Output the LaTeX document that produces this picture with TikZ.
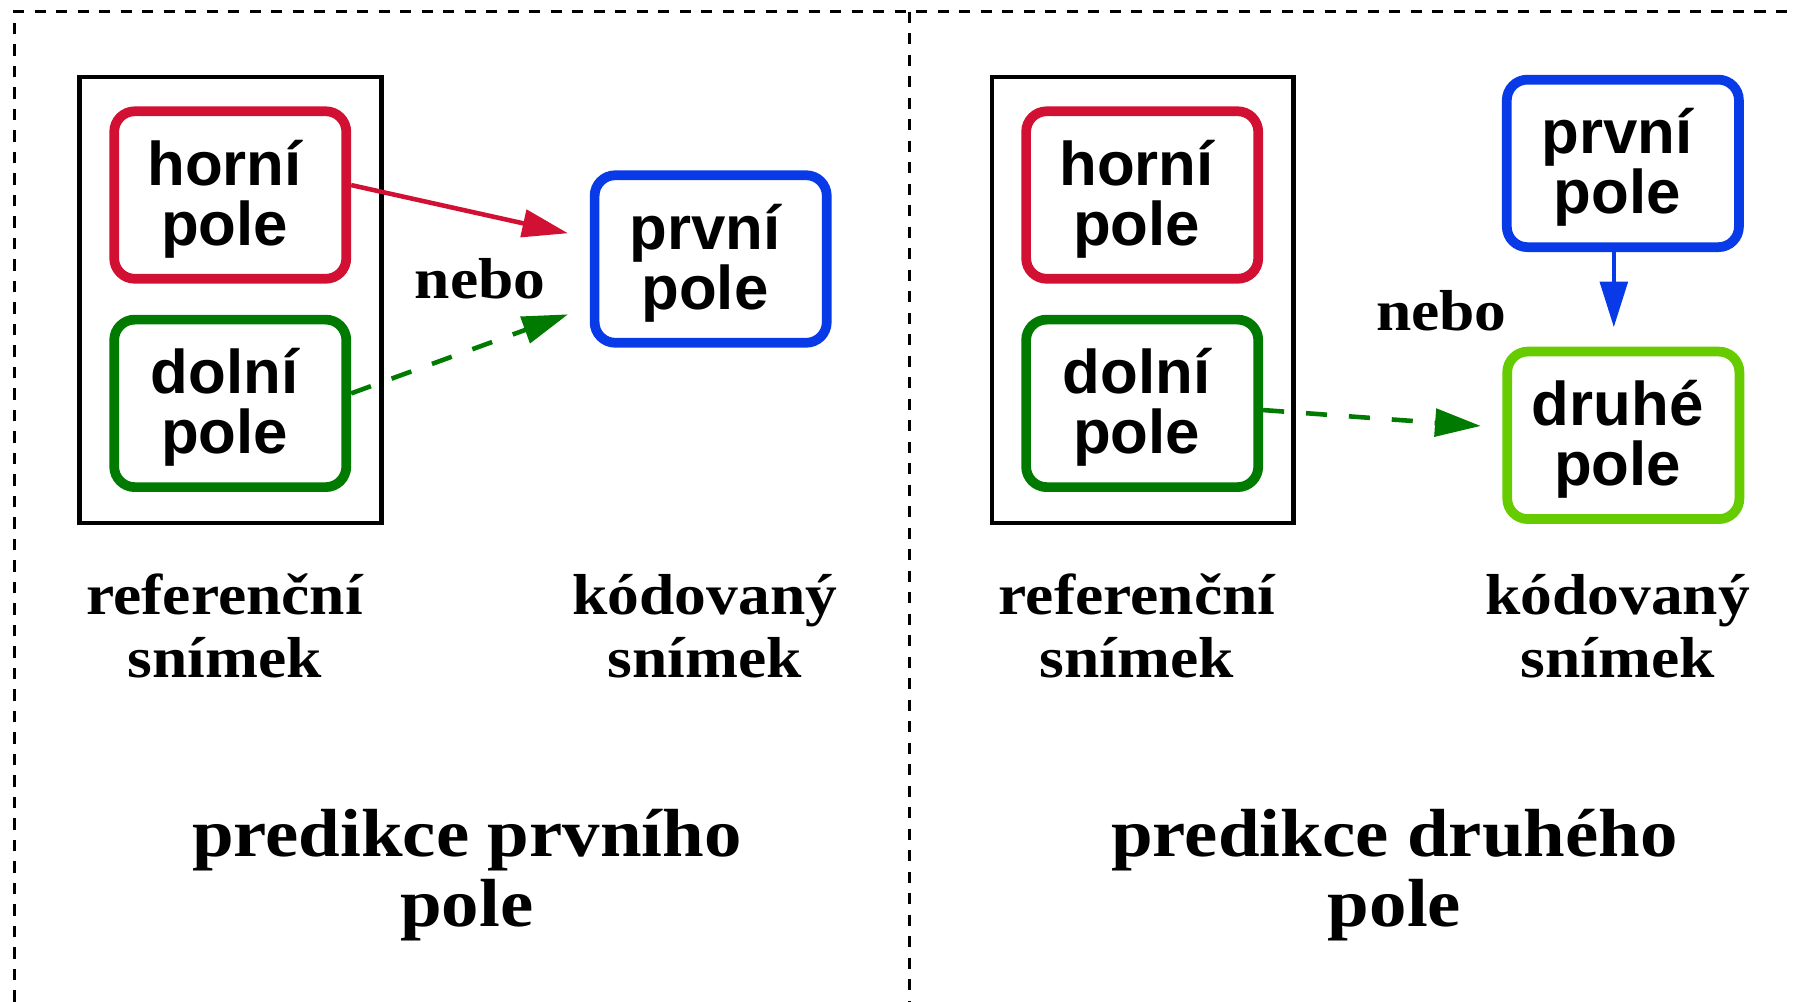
\documentclass[tikz,border=0pt]{standalone}
\usepackage{fontspec}
\usetikzlibrary{arrows.meta}
\newfontfamily\boxfont{Liberation Sans}
\newfontfamily\capfont{Liberation Serif}[FakeStretch=1.1]
\definecolor{cred}{RGB}{210,16,52}
\definecolor{cgreen}{RGB}{0,122,0}
\definecolor{cblue}{RGB}{8,58,232}
\definecolor{clgreen}{RGB}{102,204,0}
\newcommand{\fieldtext}[2]{\rule{0pt}{47pt}#1\hspace*{10pt}\\#2\hspace*{10pt}\rule[-12pt]{0pt}{12pt}}
\begin{document}
\begin{tikzpicture}[x=1pt,y=-1pt,
  field/.style={draw=#1, line width=8.5pt, rounded corners=18pt,
    minimum width=203pt, minimum height=146.5pt, inner sep=0pt, align=center,
    font=\boxfont\bfseries\fontsize{54}{52.5}\selectfont},
  frame/.style={draw=black, line width=3.8pt, inner sep=0pt,
    minimum width=264pt, minimum height=390pt},
  captext/.style={align=center, inner sep=0pt,
    font=\capfont\bfseries\fontsize{50.5}{54.5}\selectfont},
  titletext/.style={align=center, inner sep=0pt,
    font=\capfont\bfseries\fontsize{59.5}{61.2}\selectfont},
  conn/.style={draw=#1, line width=4pt, -{Triangle[length=40pt,width=24pt]}},
  dconn/.style={conn=#1, dash pattern=on 18.4pt off 19.2pt},
  guide/.style={draw=black, line width=2.9pt, dash pattern=on 9.9pt off 8.9pt}
]
\useasboundingbox (0,0) rectangle (1568,876);
% dashed panel frame
\draw[guide] (12.5,876) -- (12.5,10.2) -- (1568,10.2);
\draw[guide] (795.2,10.2) -- (795.2,876);

% left panel
\node (lframe) [frame] at (201.5,262.2) {};
\node (hl) [field=cred] at (201.35,170.55) {\fieldtext{horní}{pole}};
\node (dl) [field=cgreen] at (201.35,352.75) {\fieldtext{dolní}{pole}};
\node (pl) [field=cblue] at (621.5,226.5) {\fieldtext{první}{pole}};
\node (nl) [captext, anchor=base] at (420,260.9) {nebo};
\node (lref) [captext] at (196.5,545) {\rule{0pt}{42pt}referenční\\snímek\rule[-2pt]{0pt}{2pt}};
\node (lcod) [captext] at (616.5,545) {\rule{0pt}{42pt}kódovaný\\snímek\rule[-2pt]{0pt}{2pt}};
\node (ltitle) [titletext] at (408.3,761.3) {\rule{0pt}{50pt}predikce prvního\\pole\rule[-14pt]{0pt}{14pt}};
\draw[conn=cred] ([yshift=8.7pt]hl.east) -- ([xshift=-19pt,yshift=22.5pt]pl.west);
\draw[dconn=cgreen] ([yshift=8.75pt]dl.east) -- ([xshift=-19pt,yshift=-48.4pt]pl.west);

% right panel
\node (rframe) [frame] at (999.3,262.2) {};
\node (hr) [field=cred] at (998.85,170.55) {\fieldtext{horní}{pole}};
\node (dr) [field=cgreen] at (998.85,352.75) {\fieldtext{dolní}{pole}};
\node (pr) [field=cblue] at (1419.2,142.9) {\fieldtext{první}{pole}};
\node (sr) [field=clgreen] at (1419.6,380.7) {\fieldtext{druhé}{pole}};
\node (nr) [captext, anchor=base] at (1260.5,288.6) {nebo};
\node (rref) [captext] at (994.3,545) {\rule{0pt}{42pt}referenční\\snímek\rule[-2pt]{0pt}{2pt}};
\node (rcod) [captext] at (1414.5,545) {\rule{0pt}{42pt}kódovaný\\snímek\rule[-2pt]{0pt}{2pt}};
\node (rtitle) [titletext] at (1219.5,761.3) {\rule{0pt}{50pt}predikce druhého\\pole\rule[-14pt]{0pt}{14pt}};
\draw[conn=cblue] ([xshift=-7.9pt]pr.south) -- ([xshift=-8.3pt,yshift=17pt]sr.north);
\draw[dconn=cgreen] ([yshift=-5.85pt]dr.east) -- ([xshift=-18.9pt,yshift=8.2pt]sr.west);
\end{tikzpicture}
\end{document}
